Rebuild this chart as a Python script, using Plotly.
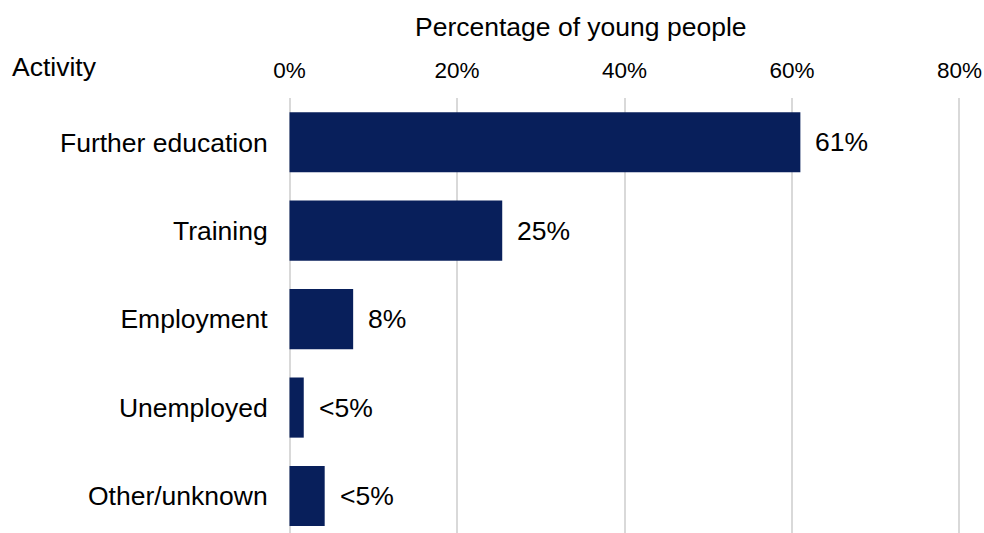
import plotly.graph_objects as go

categories = ["Further education", "Training", "Employment", "Unemployed", "Other/unknown"]
values = [61.0, 25.4, 7.6, 1.7, 4.2]
labels = ["61%", "25%", "8%", "<5%", "<5%"]
tick_vals = [0, 20, 40, 60, 80]
tick_text = ["0%", "20%", "40%", "60%", "80%"]

FONT = "Liberation Sans, Arial, sans-serif"

W, H = 984, 533
PAD = 0.3                      # small range padding so the 0% and 80% gridlines are drawn
scale = (959 - 290) / 80.0     # px per percent
L = 290 - PAD * scale
R = W - (959 + PAD * scale)
T, B = 98, 0
pw, ph = W - L - R, H - T - B

row0_y, pitch = 142, 88.5
y_bottom = (H - row0_y) / pitch

fig = go.Figure(go.Bar(
    y=categories, x=values, orientation="h",
    marker=dict(color="#081f5b", line=dict(width=0)),
    hoverinfo="skip",
))

annotations = []
for c, v, t in zip(categories, values, labels):
    annotations.append(dict(x=v, y=c, xref="x", yref="y", text=t, showarrow=False,
                            xanchor="left", yanchor="middle", xshift=13,
                            font=dict(size=26.5, color="#000", family=FONT)))

def px_to_paper(px, py):
    return (px - L) / pw, (H - B - py) / ph

tx, ty = px_to_paper(581, 27)
annotations.append(dict(x=tx, y=ty, xref="paper", yref="paper", text="Percentage of young people",
                        showarrow=False, xanchor="center", yanchor="middle",
                        font=dict(size=26.5, color="#000", family=FONT)))
ax, ay = px_to_paper(11, 67)
annotations.append(dict(x=ax, y=ay, xref="paper", yref="paper", text="Activity", showarrow=False,
                        xanchor="left", yanchor="middle",
                        font=dict(size=26.5, color="#000", family=FONT)))

fig.update_layout(
    width=W, height=H,
    margin=dict(l=L, r=R, t=T, b=B),
    paper_bgcolor="white", plot_bgcolor="white",
    bargap=0.32,
    showlegend=False,
    annotations=annotations,
    font=dict(family=FONT, color="#000"),
    xaxis=dict(side="top", range=[-PAD, 80 + PAD], tickvals=tick_vals, ticktext=tick_text,
               showgrid=True, gridcolor="#d9d9d9", gridwidth=2, zeroline=False,
               ticks="outside", ticklen=10, tickcolor="rgba(0,0,0,0)",
               tickfont=dict(size=22.5, color="#000", family=FONT), showline=False,
               ticklabeloverflow="allow", fixedrange=True),
    yaxis=dict(range=[y_bottom, -0.5], showgrid=False, zeroline=False, showline=False,
               ticks="outside", ticklen=13, tickcolor="rgba(0,0,0,0)",
               tickfont=dict(size=26.5, color="#000", family=FONT), fixedrange=True),
)

fig.write_html("out.html", config={"displayModeBar": False},
               post_script="document.body.style.margin='0';document.body.style.overflow='hidden';")
